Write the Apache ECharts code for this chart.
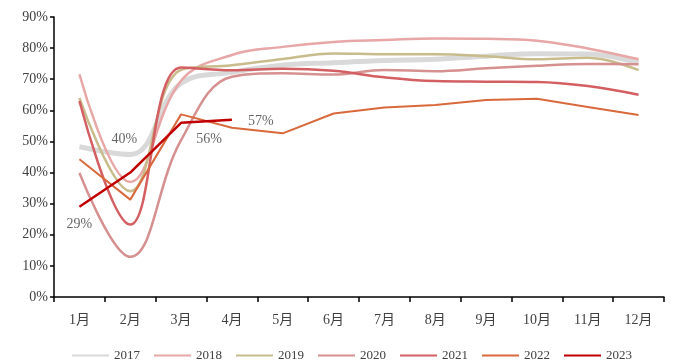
<!DOCTYPE html>
<html>
<head>
<meta charset="utf-8">
<script src="https://cdn.jsdelivr.net/npm/echarts@6/dist/echarts.min.js"></script>
<style>
  html, body { margin: 0; padding: 0; background: #fff; }
  #chart { width: 676px; height: 363px; }
</style>
</head>
<body>
<div id="chart"></div>
<script>
// Monthly utilisation rate (%), one line per year
const months = ['1月', '2月', '3月', '4月', '5月', '6月', '7月', '8月', '9月', '10月', '11月', '12月'];
const years = ['2017', '2018', '2019', '2020', '2021', '2022', '2023'];

const y2017 = [48.3, 45.8, 68.7, 72.2, 74.5, 75.3, 76.0, 76.4, 77.4, 78.2, 78.1, 75.3];
const y2018 = [71.6, 37.0, 69.5, 77.8, 80.4, 82.0, 82.6, 83.1, 83.0, 82.4, 79.9, 76.4];
const y2019 = [64.0, 34.0, 73.0, 74.5, 76.5, 78.3, 78.0, 78.0, 77.4, 76.4, 76.9, 72.9];
const y2020 = [39.9, 12.9, 50.4, 70.8, 71.9, 71.5, 73.0, 72.6, 73.5, 74.3, 74.9, 74.8];
const y2021 = [63.0, 23.3, 73.8, 72.9, 73.4, 72.7, 70.6, 69.4, 69.2, 69.1, 67.8, 65.0];
const y2022 = [44.3, 31.3, 58.7, 54.4, 52.6, 59.0, 60.9, 61.7, 63.3, 63.7, 61.1, 58.5];
const y2023 = [29, 40, 56, 57];

// Where each 2023 value label sits relative to its point
const labelOffsets2023 = [[0, 18], [-6, -33], [28, 17], [29, 2]];

const colors = ['#d9d9d9', '#e8a6a6', '#c8bb8c', '#d69090', '#d45f63', '#d9693c', '#c00000'];
const widths = [5, 2.5, 2.5, 2.5, 2.5, 2, 2.5];
const smoothFlags = [true, true, true, true, true, false, false];
const values = [y2017, y2018, y2019, y2020, y2021, y2022, y2023];

const textFont = '"Liberation Serif", "Noto Sans CJK SC", serif';

const series = years.map((name, i) => ({
  name: name,
  type: 'line',
  data: values[i],
  smooth: smoothFlags[i] ? 0.4 : false,
  symbol: 'none',
  lineStyle: { color: colors[i], width: widths[i] },
  itemStyle: { color: colors[i] },
  z: i + 2
}));

// Value labels for the 2023 line, placed on transparent points
series.push({
  name: '2023标注',
  type: 'scatter',
  data: y2023.map((v, k) => ({
    value: [k, v],
    label: {
      show: true,
      position: 'inside',
      offset: labelOffsets2023[k],
      formatter: v + '%',
      fontSize: 14,
      color: '#404040',
      fontFamily: textFont
    }
  })),
  symbolSize: 2,
  itemStyle: { color: 'rgba(0,0,0,0)' },
  silent: true,
  z: 20
});

const chart = echarts.init(document.getElementById('chart'), null, { renderer: 'canvas' });
chart.setOption({
  animation: false,
  backgroundColor: '#ffffff',
  grid: { left: 54, right: 12, top: 17, bottom: 66, containLabel: false },
  legend: {
    data: years,
    left: 66,
    top: 344,
    itemWidth: 37,
    itemHeight: 12,
    itemGap: 13,
    itemStyle: { opacity: 0 },
    textStyle: { fontSize: 13, color: '#404040', fontFamily: textFont }
  },
  xAxis: {
    type: 'category',
    data: months,
    boundaryGap: true,
    axisLine: { lineStyle: { color: '#000', width: 1.5 } },
    axisTick: { show: true, length: 5, lineStyle: { color: '#000', width: 1.5 } },
    axisLabel: { fontSize: 14, color: '#404040', margin: 16, fontFamily: textFont },
    splitLine: { show: false }
  },
  yAxis: {
    type: 'value',
    min: 0,
    max: 90,
    interval: 10,
    axisLine: { show: true, lineStyle: { color: '#000', width: 1.5 } },
    axisTick: { show: true, length: 4, lineStyle: { color: '#000', width: 1.5 } },
    axisLabel: { fontSize: 14, color: '#404040', margin: 6, formatter: '{value}%', fontFamily: textFont },
    splitLine: { show: false }
  },
  series: series
});
</script>
</body>
</html>
